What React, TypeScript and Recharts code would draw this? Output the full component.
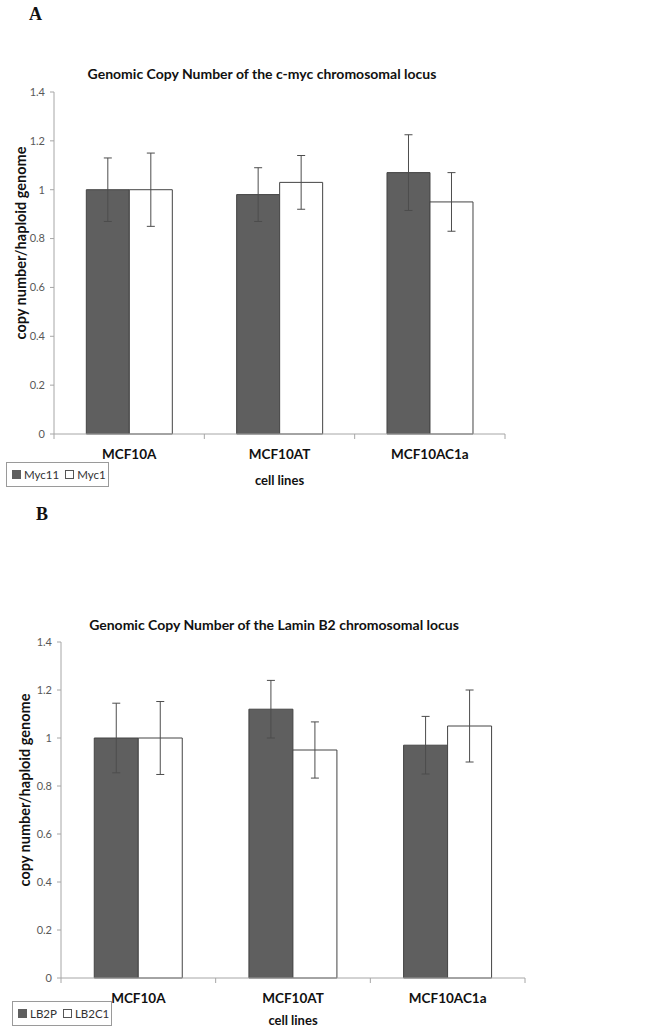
import { BarChart, Bar, XAxis, YAxis, ErrorBar } from "recharts";

const cellLines = ["MCF10A", "MCF10AT", "MCF10AC1a"];
const yTicks = [0, 0.2, 0.4, 0.6, 0.8, 1, 1.2, 1.4];

const myc11 = [1.0, 0.98, 1.07];
const myc11Err = [0.13, 0.11, 0.155];
const myc1 = [1.0, 1.03, 0.95];
const myc1Err = [0.15, 0.11, 0.12];

const lb2p = [1.0, 1.12, 0.97];
const lb2pErr = [0.145, 0.12, 0.12];
const lb2c1 = [1.0, 0.95, 1.05];
const lb2c1Err = [0.152, 0.117, 0.15];

const FONT = "Lato, 'Open Sans', sans-serif";
const DARK = "#5f5f5f";
const AXIS = "#a6a6a6";

const dataA = cellLines.map((name, i) => ({
  name,
  a: myc11[i],
  aErr: myc11Err[i],
  b: myc1[i],
  bErr: myc1Err[i],
}));

const dataB = cellLines.map((name, i) => ({
  name,
  a: lb2p[i],
  aErr: lb2pErr[i],
  b: lb2c1[i],
  bErr: lb2c1Err[i],
}));

// category label plus tick marks on the category boundaries
function EdgeTick(props: any) {
  const { x, y, payload, index, visibleTicksCount } = props;
  const half = payload.offset ?? 0;
  const last = index === visibleTicksCount - 1;
  return (
    <g>
      <line x1={x - half} x2={x - half} y1={y} y2={y + 5} stroke={AXIS} />
      {last && <line x1={x + half} x2={x + half} y1={y} y2={y + 5} stroke={AXIS} />}
      <text
        x={x}
        y={y + 25}
        textAnchor="middle"
        fontFamily={FONT}
        fontWeight="bold"
        fontSize={13.5}
        fill="#111"
      >
        {payload.value}
      </text>
    </g>
  );
}

type PanelProps = {
  data: typeof dataA;
  top: number;
  height: number;
  margin: { top: number; right: number; bottom: number; left: number };
  labelX: number;
  xAxisHeight: number;
};

function Panel({ data, top, height, margin, labelX, xAxisHeight }: PanelProps) {
  const yLabel = (p: any) => {
    const vb = p.viewBox;
    const cy = vb.y + vb.height / 2 - 20;
    return (
      <text
        x={labelX}
        y={cy}
        transform={`rotate(-90, ${labelX}, ${cy})`}
        textAnchor="middle"
        dominantBaseline="central"
        fontFamily={FONT}
        fontWeight="bold"
        fontSize={14.5}
        fill="#111"
      >
        copy number/haploid genome
      </text>
    );
  };
  return (
    <div style={{ position: "absolute", left: 0, top }}>
      <BarChart
        width={650}
        height={height}
        data={data}
        margin={margin}
        barCategoryGap="21.5%"
        barGap={0}
      >
        <XAxis
          dataKey="name"
          axisLine={{ stroke: AXIS }}
          tickLine={false}
          tickSize={0}
          tickMargin={0}
          tick={<EdgeTick />}
          height={xAxisHeight}
          label={{
            value: "cell lines",
            position: "insideBottom",
            offset: 1,
            style: { fontFamily: FONT, fontWeight: "bold", fontSize: 13, fill: "#111" },
          }}
        />
        <YAxis
          width={40}
          domain={[0, 1.4]}
          ticks={yTicks}
          axisLine={{ stroke: AXIS }}
          tickLine={{ stroke: AXIS }}
          tickSize={4}
          tickMargin={5}
          tick={{ fontFamily: FONT, fontSize: 11, fill: "#595959" }}
          label={yLabel}
        />
        <Bar dataKey="a" fill={DARK} stroke="#444" strokeWidth={1} isAnimationActive={false}>
          <ErrorBar dataKey="aErr" width={4} stroke="#4d4d4d" strokeWidth={1} />
        </Bar>
        <Bar dataKey="b" fill="#ffffff" stroke="#444" strokeWidth={1} isAnimationActive={false}>
          <ErrorBar dataKey="bErr" width={4} stroke="#4d4d4d" strokeWidth={1} />
        </Bar>
      </BarChart>
    </div>
  );
}

function LegendBox({ left, top, names }: { left: number; top: number; names: string[] }) {
  return (
    <div
      style={{
        position: "absolute",
        left,
        top,
        height: 25,
        padding: "0 2px 0 5px",
        border: "1px solid #9a9a9a",
        display: "flex",
        alignItems: "center",
        fontFamily: FONT,
        fontSize: 11.5,
        color: "#333",
        boxSizing: "border-box",
        background: "#fff",
        whiteSpace: "nowrap",
      }}
    >
      {names.map((n, i) => (
        <span key={n} style={{ display: "flex", alignItems: "center", marginRight: i === 0 ? 6 : 0 }}>
          <span
            style={{
              display: "inline-block",
              width: 7,
              height: 7,
              marginRight: 3,
              background: i === 0 ? DARK : "#fff",
              border: "1px solid " + (i === 0 ? DARK : "#555"),
            }}
          />
          {n}
        </span>
      ))}
    </div>
  );
}

const titleStyle = {
  position: "absolute" as const,
  fontFamily: FONT,
  fontWeight: "bold" as const,
  fontSize: 14,
  color: "#111",
  whiteSpace: "nowrap" as const,
  transform: "translate(-50%, -50%)",
};

const panelLetter = {
  position: "absolute" as const,
  fontFamily: "'Liberation Serif', 'DejaVu Serif', serif",
  fontWeight: "bold" as const,
  fontSize: 18,
  color: "#111",
};

export default function App() {
  return (
    <div style={{ position: "absolute", left: 0, top: 0, width: 650, height: 1028, background: "#fff" }}>
      <div style={{ ...panelLetter, left: 29, top: 4 }}>A</div>
      <div style={{ ...titleStyle, left: 262, top: 73 }}>
        Genomic Copy Number of the c-myc chromosomal locus
      </div>
      <Panel
        data={dataA}
        top={0}
        height={500}
        margin={{ top: 92, right: 145, bottom: 14, left: 14 }}
        labelX={20}
        xAxisHeight={52}
      />
      <LegendBox left={6} top={462} names={["Myc11", "Myc1"]} />

      <div style={{ ...panelLetter, left: 36, top: 504 }}>B</div>
      <div style={{ ...titleStyle, left: 274, top: 624 }}>
        Genomic Copy Number of the Lamin B2 chromosomal locus
      </div>
      <Panel
        data={dataB}
        top={540}
        height={488}
        margin={{ top: 102, right: 125, bottom: 2, left: 21 }}
        labelX={24}
        xAxisHeight={48}
      />
      <LegendBox left={12} top={1001} names={["LB2P", "LB2C1"]} />
    </div>
  );
}
